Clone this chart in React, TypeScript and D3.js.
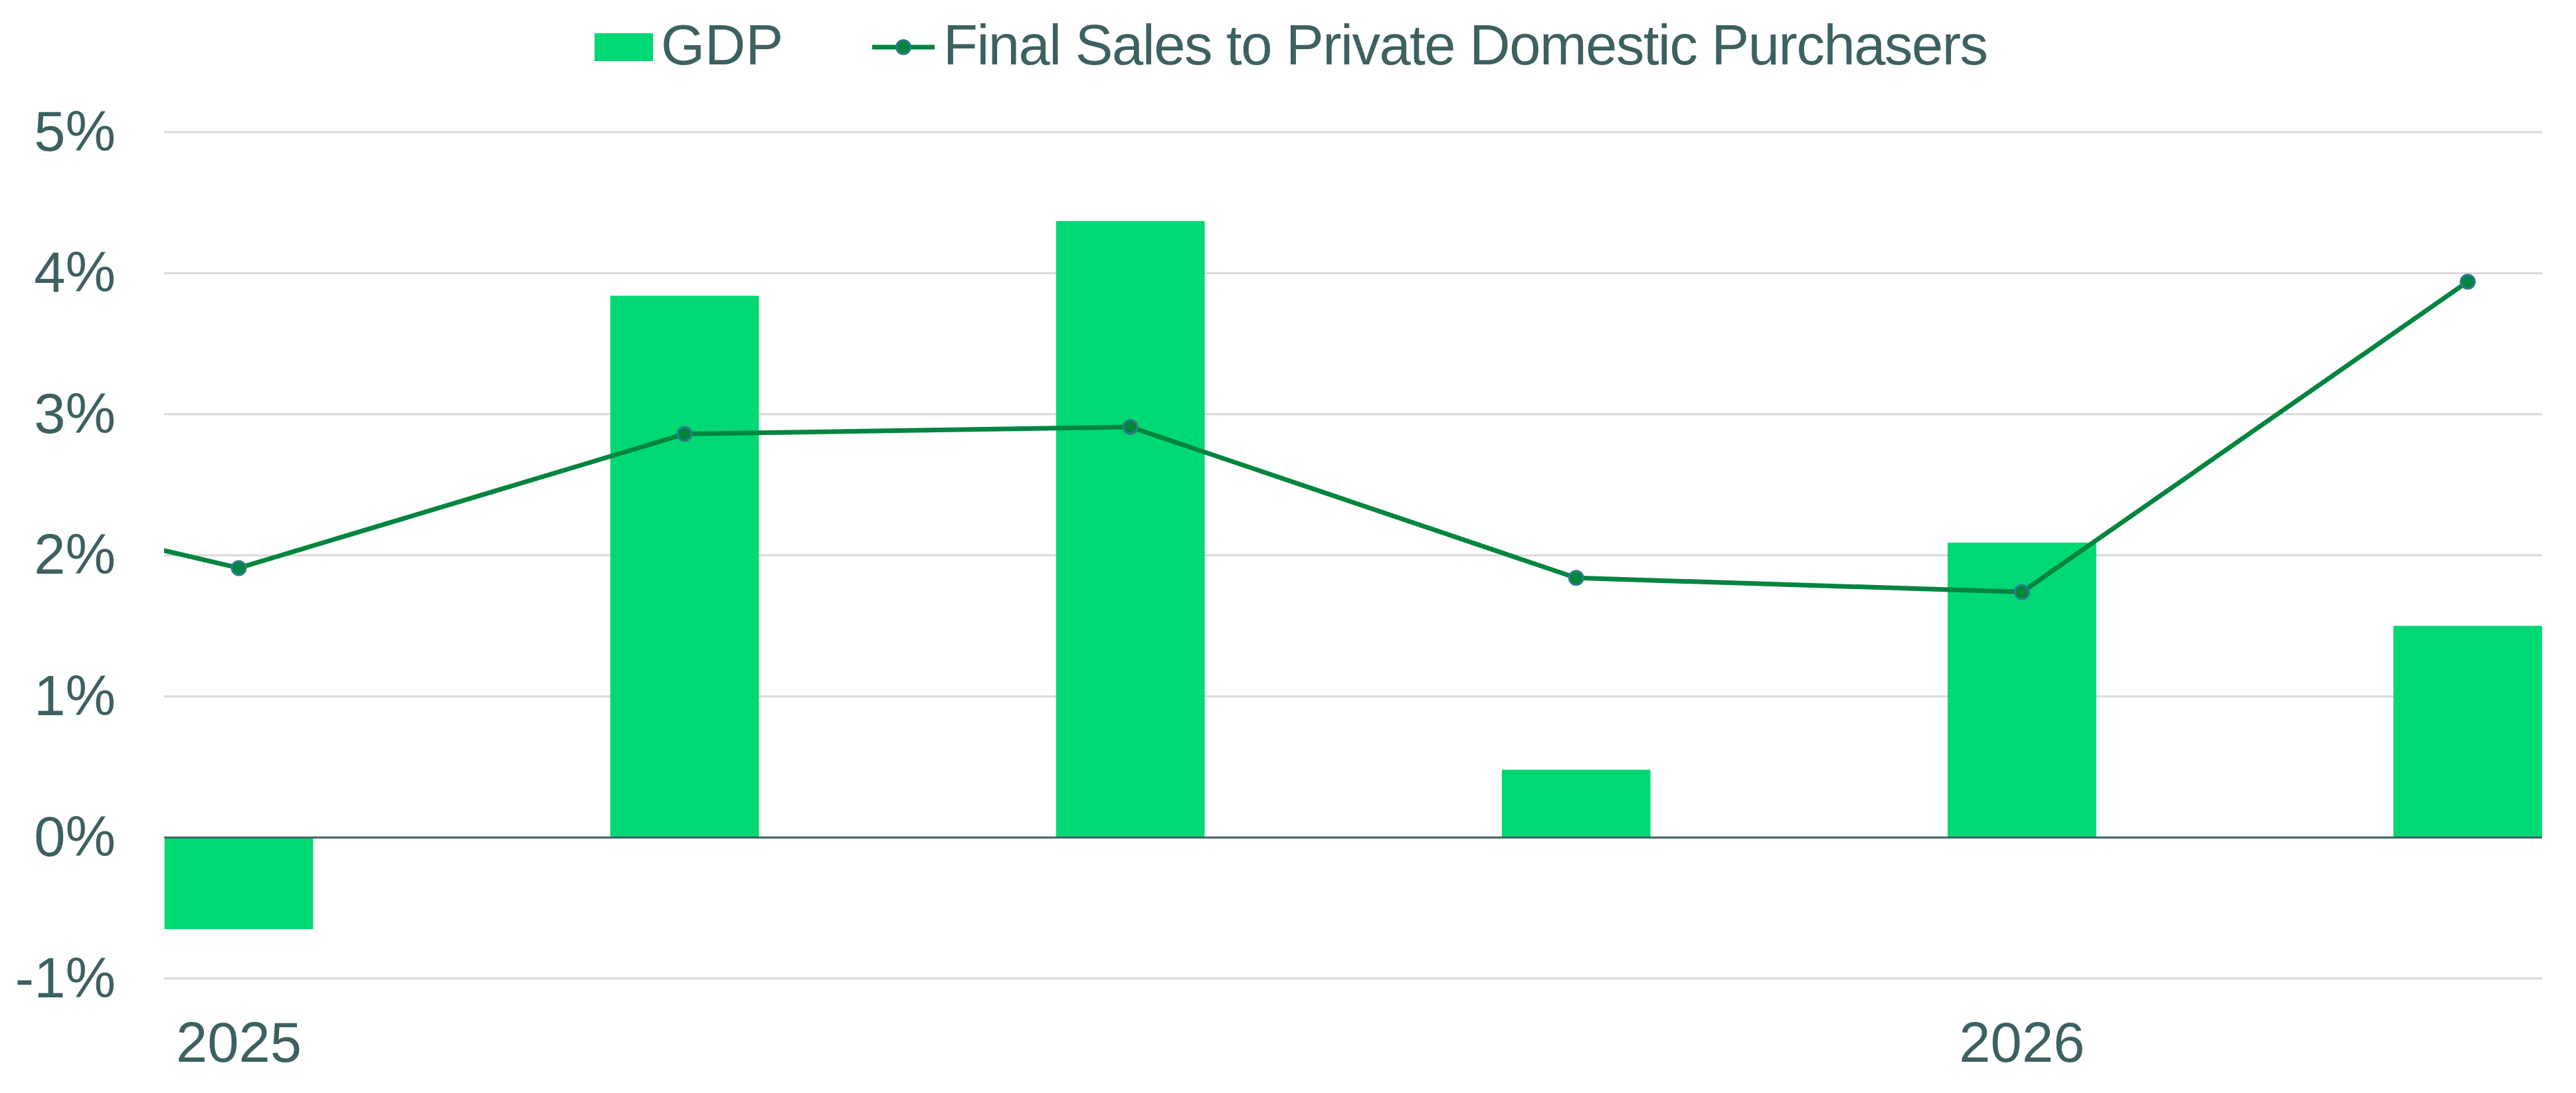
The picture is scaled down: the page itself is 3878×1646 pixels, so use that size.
import React from 'react';
import * as d3 from 'd3';

// quarters shown on the chart (2025 Q1 .. 2026 Q2)
const quarters = ['2025 Q1', '2025 Q2', '2025 Q3', '2025 Q4', '2026 Q1', '2026 Q2'];
const yearLabels = ['2025', '', '', '', '2026', ''];
const gdp = [-0.65, 3.84, 4.37, 0.48, 2.09, 1.5];
// final sales: first value is 2024 Q4, which sits left of the plot and gets clipped
const finalSalesPrev = 2.65;
const finalSales = [1.91, 2.86, 2.91, 1.84, 1.74, 3.94];
const yTicks = [-1, 0, 1, 2, 3, 4, 5];

const W = 3878;
const H = 1646;
const plotLeft = 247;
const plotRight = 3827;
const FONT = '"Liberation Sans", Arial, sans-serif';
const TEXT = '#3D6060';
const BAR = '#00D874';
const LINE = '#00853F';
const MARKER_STROKE = '#2F7B8B';
const GRID = '#D9D9D9';

export default function App() {
  const x = d3.scaleLinear().domain([0, quarters.length - 1]).range([359.5, 3715]);
  const step = x(1) - x(0);
  const barW = step / 3;
  const y = d3.scaleLinear().domain([-1, 5]).range([1473.6, 199]);

  const linePts: [number, number][] = [
    [x(-1), y(finalSalesPrev)],
    ...finalSales.map((v, i) => [x(i), y(v)] as [number, number]),
  ];
  const linePath = d3.line()(linePts) || '';

  return (
    <div style={{ position: 'absolute', left: 0, top: 0 }}>
      <svg width={W} height={H} viewBox={`0 0 ${W} ${H}`} style={{ display: 'block', background: '#fff' }}>
        <defs>
          <clipPath id="plot-clip">
            <rect x={plotLeft} y={0} width={plotRight - plotLeft} height={H} />
          </clipPath>
        </defs>

        {/* gridlines */}
        {yTicks.filter(t => t !== 0).map(t => (
          <line key={t} x1={plotLeft} x2={plotRight} y1={y(t)} y2={y(t)} stroke={GRID} strokeWidth={3} />
        ))}

        {/* y labels */}
        {yTicks.map(t => (
          <text key={t} x={174} y={y(t) + 28} textAnchor="end" fontFamily={FONT} fontSize={85} fill={TEXT}>
            {`${t}%`}
          </text>
        ))}

        <g clipPath="url(#plot-clip)">
          {gdp.map((v, i) => (
            <rect
              key={quarters[i]}
              x={x(i) - barW / 2}
              width={barW}
              y={Math.min(y(v), y(0))}
              height={Math.abs(y(v) - y(0))}
              fill={BAR}
            />
          ))}

          <line x1={plotLeft} x2={plotRight} y1={y(0)} y2={y(0)} stroke={TEXT} strokeWidth={3} />

          <path d={linePath} fill="none" stroke={LINE} strokeWidth={7} strokeLinejoin="round" />
          {finalSales.map((v, i) => (
            <circle key={quarters[i]} cx={x(i)} cy={y(v)} r={10.5} fill={LINE} stroke={MARKER_STROKE} strokeWidth={3} />
          ))}
        </g>

        {/* x labels */}
        {yearLabels.map((l, i) => l ? (
          <text key={i} x={x(i)} y={1599} textAnchor="middle" fontFamily={FONT} fontSize={85} fill={TEXT}>
            {l}
          </text>
        ) : null)}

        {/* legend */}
        <rect x={895} y={50} width={88} height={42} fill={BAR} />
        <text x={995} y={97} fontFamily={FONT} fontSize={85} fill={TEXT}>GDP</text>
        <line x1={1313} x2={1407} y1={71} y2={71} stroke={LINE} strokeWidth={7} />
        <circle cx={1360} cy={71} r={10.5} fill={LINE} stroke={MARKER_STROKE} strokeWidth={3} />
        <text x={1420} y={97} fontFamily={FONT} fontSize={85} letterSpacing={-1.5} fill={TEXT}>
          Final Sales to Private Domestic Purchasers
        </text>
      </svg>
    </div>
  );
}
